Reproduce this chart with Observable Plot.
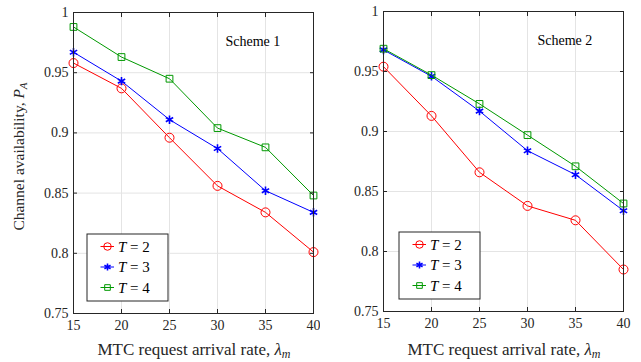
<!DOCTYPE html>
<html><head><meta charset="utf-8">
<script src="https://cdn.jsdelivr.net/npm/d3@7"></script>
<script src="https://cdn.jsdelivr.net/npm/@observablehq/plot@0.6"></script>
<style>
body{margin:0;background:#fff;}
#wrap{position:relative;width:641px;height:362px;background:#fff;}
#wrap svg{position:absolute;top:0;}
#wrap svg, #wrap svg text, #wrap svg tspan{font-family:"Liberation Serif","DejaVu Serif",serif !important;}
</style></head><body><div id="wrap"></div>
<script>
// ---- data ----
const lambda = [15, 20, 25, 30, 35, 40];
const xTicks = [15, 20, 25, 30, 35, 40];
const yTicks = [0.75, 0.8, 0.85, 0.9, 0.95, 1];
const seriesNames = ["2", "3", "4"]; // T values
const scheme1T2 = [0.958, 0.937, 0.896, 0.856, 0.834, 0.801];
const scheme1T3 = [0.967, 0.943, 0.911, 0.887, 0.852, 0.834];
const scheme1T4 = [0.988, 0.963, 0.945, 0.904, 0.888, 0.848];
const scheme2T2 = [0.954, 0.913, 0.866, 0.838, 0.826, 0.785];
const scheme2T3 = [0.968, 0.946, 0.917, 0.884, 0.864, 0.834];
const scheme2T4 = [0.969, 0.947, 0.923, 0.897, 0.871, 0.840];
const panelTitles = ["Scheme 1", "Scheme 2"];
const yLabelText = "Channel availability, ";
const xLabelText = "MTC request arrival rate, ";

// ---- style ----
const FONT = '"Liberation Serif","DejaVu Serif",serif';
const INK = "#262626";
const colors = ["#ff0000", "#0000ff", "#009900"];
const symbols = ["circle", "asterisk", "square2"];
const radii = [4.5, 4.0, 4.3];
const dotWidths = [1, 1.6, 1];

const wrap = document.getElementById("wrap");

function panel(values, title, cfg) {
  const rows = [];
  values.forEach((arr, i) => arr.forEach((v, j) => rows.push({x: lambda[j], y: v, s: i})));
  const marks = [
    Plot.gridX(xTicks, {stroke: "#e4e4e4", strokeOpacity: 1}),
    Plot.gridY(yTicks, {stroke: "#e4e4e4", strokeOpacity: 1})
  ];
  values.forEach((arr, i) => {
    const d = rows.filter(r => r.s === i);
    marks.push(Plot.line(d, {x: "x", y: "y", stroke: colors[i], strokeWidth: 1}));
    marks.push(Plot.dot(d, {x: "x", y: "y", symbol: () => symbols[i], r: radii[i], stroke: colors[i], strokeWidth: dotWidths[i], fill: "none"}));
  });
  marks.push(
    Plot.axisX(xTicks, {anchor: "bottom", tickSize: 0, tickPadding: 7, label: null, fontSize: 14, color: INK}),
    Plot.axisY(yTicks, {anchor: "left", tickSize: 0, tickPadding: 5, label: null, tickFormat: d => String(d), fontSize: 14, color: INK}),
    Plot.axisX(xTicks, {anchor: "bottom", tickSize: -4, tickFormat: () => "", label: null, stroke: INK}),
    Plot.axisX(xTicks, {anchor: "top", tickSize: -4, tickFormat: () => "", label: null, stroke: INK}),
    Plot.axisY(yTicks, {anchor: "left", tickSize: -4, tickFormat: () => "", label: null, stroke: INK}),
    Plot.axisY(yTicks, {anchor: "right", tickSize: -4, tickFormat: () => "", label: null, stroke: INK}),
    Plot.frame({stroke: INK, strokeWidth: 1}),
    Plot.text([title], {frameAnchor: "top-left", dx: cfg.titleDx, dy: 24, text: d => d, textAnchor: "start", fontSize: 14, fill: "#000"})
  );
  const svg = Plot.plot({
    width: cfg.width, height: 362,
    marginLeft: cfg.ml, marginRight: cfg.mr, marginTop: cfg.mt, marginBottom: cfg.mb,
    x: {domain: [15, 40]},
    y: {domain: [0.75, 1]},
    style: {fontFamily: FONT, fontSize: "14px", color: INK, background: "#fff", overflow: "visible"},
    marks
  });
  svg.style.left = cfg.left + "px";
  const s = d3.select(svg);
  const fx0 = cfg.ml, fx1 = cfg.width - cfg.mr, fy0 = cfg.mt, fy1 = 362 - cfg.mb;

  // x-axis label
  const xl = s.append("text").attr("x", (fx0 + fx1) / 2 + 1).attr("y", 355)
    .attr("text-anchor", "middle").attr("font-family", FONT).attr("font-size", 17).attr("fill", INK);
  xl.append("tspan").text(xLabelText);
  xl.append("tspan").attr("font-style", "italic").text("λ");
  xl.append("tspan").attr("font-style", "italic").attr("font-size", 12).attr("dy", 3).text("m");

  // y-axis label
  if (cfg.yLabel) {
    const yl = s.append("text").attr("transform", `translate(24,${(fy0 + fy1) / 2 - 6}) rotate(-90)`)
      .attr("text-anchor", "middle").attr("font-family", FONT).attr("font-size", 15.5).attr("fill", INK);
    yl.append("tspan").text(yLabelText);
    yl.append("tspan").attr("font-style", "italic").text("P");
    yl.append("tspan").attr("font-style", "italic").attr("font-size", 11).attr("dy", 3).text("A");
  }

  // legend
  const lg = s.append("g").attr("transform", `translate(${fx0 + cfg.legDx},${cfg.legY})`);
  lg.append("rect").attr("width", 81).attr("height", 67).attr("fill", "#fff").attr("stroke", INK).attr("stroke-width", 1);
  const rowY = [12.5, 33, 53.5];
  const symMap = {circle: d3.symbolCircle, asterisk: d3.symbolAsterisk, square2: d3.symbolSquare2};
  seriesNames.forEach((t, i) => {
    const g = lg.append("g").attr("transform", `translate(0,${rowY[i]})`);
    g.append("line").attr("x1", 13.5).attr("x2", 27).attr("stroke", colors[i]).attr("stroke-width", 1);
    g.append("path").attr("transform", "translate(20.5,0)")
      .attr("d", d3.symbol(symMap[symbols[i]], Math.PI * radii[i] * radii[i] * 0.7)())
      .attr("fill", "none").attr("stroke", colors[i]).attr("stroke-width", dotWidths[i]);
    const tx = g.append("text").attr("x", 31).attr("dy", "0.35em").attr("text-anchor", "start")
      .attr("font-family", FONT).attr("font-size", 15).attr("fill", "#000");
    tx.append("tspan").attr("font-style", "italic").text("T");
    tx.append("tspan").text(" = " + t);
  });
  wrap.appendChild(svg);
}

panel([scheme1T2, scheme1T3, scheme1T4], panelTitles[0],
  {left: 0, width: 322, ml: 73, mr: 9, mt: 12, mb: 49, titleDx: 152, legDx: 14, legY: 234, yLabel: true});
panel([scheme2T2, scheme2T3, scheme2T4], panelTitles[1],
  {left: 320, width: 321, ml: 63, mr: 18, mt: 11, mb: 51, titleDx: 154, legDx: 16, legY: 232, yLabel: false});
</script>
</body></html>
